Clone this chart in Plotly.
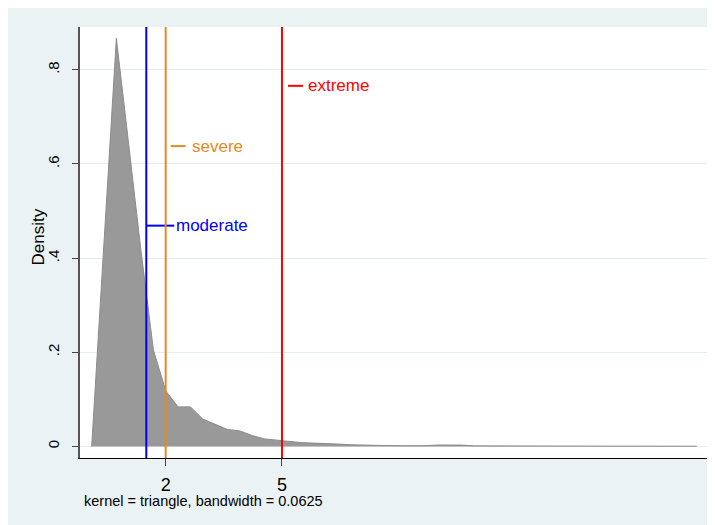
import plotly.graph_objects as go

# ---- data ----
x_grid = [0.091, 0.410, 0.728, 1.047, 1.365, 1.684, 2.002, 2.321, 2.639, 2.958,
          3.276, 3.595, 3.913, 4.232, 4.550, 4.869, 5.187, 5.506, 5.824, 6.143,
          6.461, 6.780, 7.098, 7.417, 7.735, 8.054, 8.372, 8.691, 9.009, 9.328,
          9.646, 9.965, 10.283, 10.602, 10.920, 11.239, 11.557, 11.876, 12.194, 12.513,
          12.831, 13.150, 13.468, 13.787, 14.105, 14.424, 14.742, 15.061, 15.379, 15.698]
density = [0.0, 0.430, 0.867, 0.641, 0.414, 0.205, 0.118, 0.084, 0.084, 0.058,
           0.047, 0.036, 0.033, 0.023, 0.016, 0.013, 0.010, 0.008, 0.007, 0.0065,
           0.005, 0.0035, 0.0025, 0.002, 0.0018, 0.0015, 0.0012, 0.0015, 0.003, 0.003,
           0.0028, 0.0012, 0.001, 0.0009, 0.0009, 0.0008, 0.0008, 0.0008, 0.0007, 0.0007,
           0.0007, 0.0006, 0.0006, 0.0006, 0.0006, 0.0005, 0.0005, 0.0005, 0.0005, 0.0004]

x_ticks = [2, 5]
x_tick_labels = ["2", "5"]
y_ticks = [0, 0.2, 0.4, 0.6, 0.8]
y_tick_labels = ["0", ".2", ".4", ".6", ".8"]

threshold_names = ["moderate", "severe", "extreme"]
threshold_values = [1.5, 2, 5]
label_heights = [0.469, 0.638, 0.766]
threshold_colors = ["#0000ff", "#e68a1f", "#ff0000"]

y_title = "Density"
note_text = "kernel = triangle, bandwidth = 0.0625"

# ---- styling ----
FONT = "Liberation Sans, Arial, sans-serif"
BG = "#eaf2f3"
connector_px = [(0, 28), (5, 20), (6, 21)]
text_shift_px = [28, 24, 24]

W, H = 715, 525
ML, MR, MT, MB = 72, 15, 19, 75

fig = go.Figure()
fig.add_trace(go.Scatter(
    x=x_grid, y=density, mode="lines", fill="tozeroy",
    fillcolor="#999999", line=dict(color="#8c8c8c", width=1),
    hoverinfo="skip", showlegend=False))

shapes = []
annotations = []
for name, xv, yv, col, (c0, c1), ts in zip(threshold_names, threshold_values, label_heights,
                                          threshold_colors, connector_px, text_shift_px):
    shapes.append(dict(type="line", xref="x", yref="y domain", x0=xv, x1=xv, y0=0, y1=1,
                       line=dict(color=col, width=2), layer="above"))
    shapes.append(dict(type="line", xref="x", yref="y", xsizemode="pixel", xanchor=xv,
                       x0=c0, x1=c1, y0=yv, y1=yv, line=dict(color=col, width=2)))
    annotations.append(dict(x=xv, y=yv, xref="x", yref="y", text=name, showarrow=False,
                            xanchor="left", yanchor="middle", xshift=ts,
                            font=dict(family=FONT, size=17, color=col)))

annotations.append(dict(x=0, y=0.5, xref="paper", yref="paper", text=y_title,
                        showarrow=False, textangle=-90, xanchor="center", yanchor="middle",
                        xshift=-42, yshift=5, font=dict(family=FONT, size=17, color="black")))
annotations.append(dict(x=0, y=0, xref="paper", yref="paper", text=note_text,
                        showarrow=False, xanchor="left", yanchor="middle",
                        xshift=2, yshift=-43,
                        font=dict(family=FONT, size=14.5, color="black")))

fig.update_layout(
    width=W, height=H, autosize=False,
    margin=dict(l=ML, r=MR, t=MT, b=MB, pad=0),
    paper_bgcolor=BG, plot_bgcolor="white",
    font=dict(family=FONT, color="black"),
    shapes=shapes, annotations=annotations, showlegend=False,
    xaxis=dict(range=[-0.21, 15.99], tickmode="array", tickvals=x_ticks, ticktext=x_tick_labels,
               showgrid=False, zeroline=False, showline=True, linecolor="black", linewidth=1.3,
               ticks="outside", ticklen=7, tickwidth=1.3, tickcolor="#444",
               ticklabelstandoff=3,
               tickfont=dict(family=FONT, size=18, color="black"), fixedrange=True),
    yaxis=dict(range=[-0.0246, 0.891], tickmode="array", tickvals=y_ticks, ticktext=y_tick_labels,
               showgrid=True, gridcolor="#e6eced", gridwidth=1, zeroline=False,
               showline=True, linecolor="#555", linewidth=1.5,
               ticks="outside", ticklen=6, tickwidth=1.3, tickcolor="#444", tickangle=-90,
               ticklabelstandoff=7,
               tickfont=dict(family=FONT, size=15, color="black"), fixedrange=True),
)

fig.write_html("out.html")
